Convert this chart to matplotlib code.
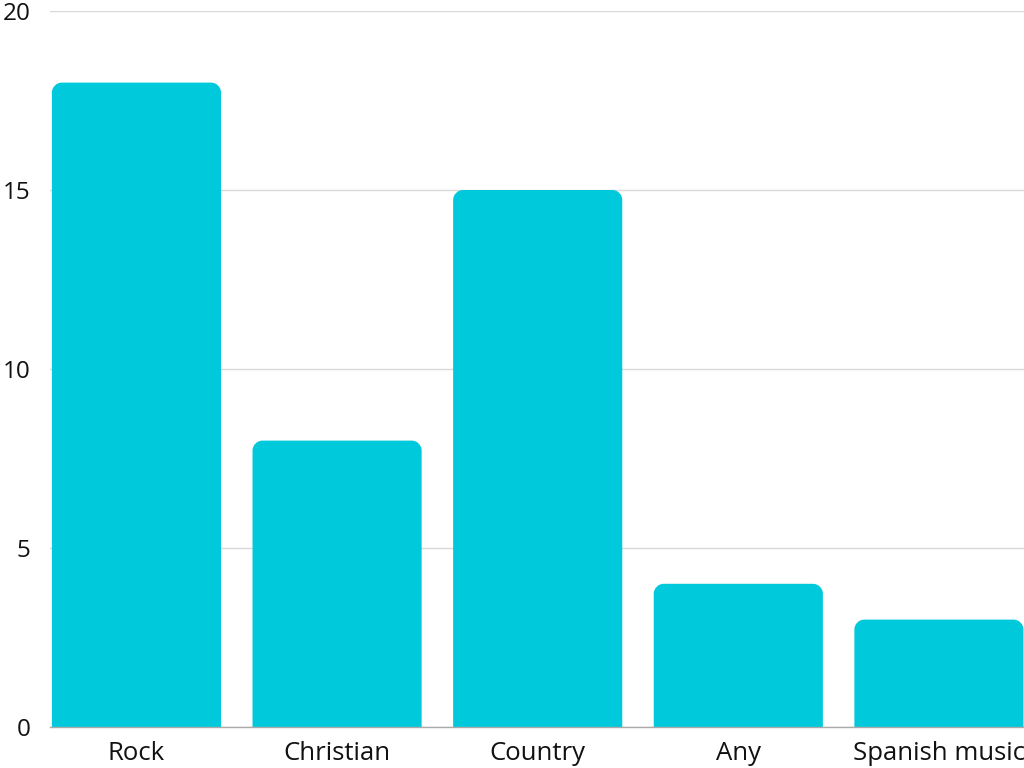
import matplotlib.pyplot as plt
from matplotlib.path import Path
from matplotlib.patches import PathPatch

categories = ["Rock", "Christian", "Country", "Any", "Spanish music"]
values = [18, 8, 15, 4, 3]
yticks = [0, 5, 10, 15, 20]

plt.rcParams['font.family'] = ['Open Sans', 'DejaVu Sans']

fig = plt.figure(figsize=(10.24, 7.68), dpi=100)
ax = fig.add_axes([50 / 1024, 41 / 768, 974 / 1024, 716 / 768])

color = "#00C9DB"
width = 0.843
x = list(range(len(categories)))
bars = ax.bar(x, values, width=width, color=color, alpha=0)

ax.set_xlim(-0.431, 4.424)
ax.set_ylim(0, 20)

# rounded top corners (radius ~10px converted to data units)
rx = 10 / (974 / (4.424 + 0.431))
ry = 10 / (716 / 20)
for b in bars:
    x0, y0 = b.get_x(), b.get_y()
    x1, y1 = x0 + b.get_width(), y0 + b.get_height()
    k = 0.5523
    verts = [
        (x0, y0), (x0, y1 - ry),
        (x0, y1 - ry + k * ry), (x0 + rx - k * rx, y1), (x0 + rx, y1),
        (x1 - rx, y1),
        (x1 - rx + k * rx, y1), (x1, y1 - ry + k * ry), (x1, y1 - ry),
        (x1, y0), (x0, y0),
    ]
    codes = [Path.MOVETO, Path.LINETO,
             Path.CURVE4, Path.CURVE4, Path.CURVE4,
             Path.LINETO,
             Path.CURVE4, Path.CURVE4, Path.CURVE4,
             Path.LINETO, Path.CLOSEPOLY]
    ax.add_patch(PathPatch(Path(verts, codes), facecolor=color, edgecolor="none", zorder=3))

ax.set_yticks(yticks)
ax.set_xticks(x)
ax.set_xticklabels(categories)
ax.tick_params(axis="y", length=0, pad=14, labelsize=17.5, colors="#111111")
ax.tick_params(axis="x", length=0, pad=10, labelsize=18.5, colors="#111111")

ax.grid(axis="y", color="#d9d9d9", linewidth=1)
ax.set_axisbelow(True)
for s in ["top", "right", "left"]:
    ax.spines[s].set_visible(False)
ax.spines["bottom"].set_color("#aaaaaa")
ax.spines["bottom"].set_linewidth(1)
ax.spines["bottom"].set_zorder(4)

fig.savefig("out.png", dpi=100)
